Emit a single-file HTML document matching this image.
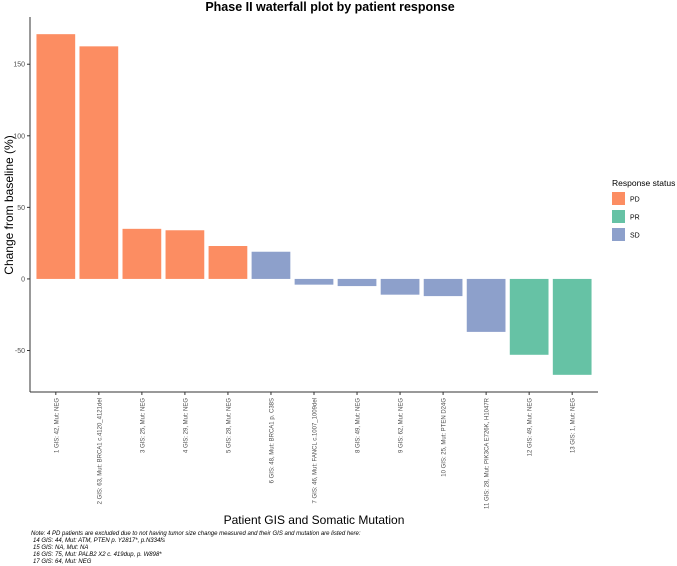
<!DOCTYPE html>
<html><head><meta charset="utf-8"><style>
html,body{margin:0;padding:0;background:#fff;}
svg{display:block;font-family:"Liberation Sans",sans-serif;}
</style></head><body>
<svg id="chart" width="677" height="566">
<text x="330" y="11" text-anchor="middle" font-size="12.5" font-weight="bold" fill="#000">Phase II waterfall plot by patient response</text>
<text transform="translate(13,205) rotate(-90)" text-anchor="middle" font-size="12" fill="#000">Change from baseline (%)</text>
<text x="314" y="524" text-anchor="middle" font-size="12" fill="#000">Patient GIS and Somatic Mutation</text>
<g font-size="6" font-style="italic" fill="#000">
<text x="31" y="535">Note: 4 PD patients are excluded due to not having tumor size change measured and their GIS and mutation are listed here:</text>
<text x="33" y="542">14 GIS: 44, Mut: ATM, PTEN p. Y2817*, p.N334fs</text>
<text x="33" y="549">15 GIS: NA, Mut: NA</text>
<text x="33" y="556">16 GIS: 75, Mut: PALB2 X2 c. 419dup, p. W898*</text>
<text x="33" y="563">17 GIS: 64, Mut: NEG</text>
</g>
<g id="plot"></g>
<g>
<text x="612" y="186" font-size="8.5" fill="#000">Response status</text>
<rect x="612" y="192" width="13" height="13" fill="#FC8D62"/>
<text x="630" y="201.5" font-size="7" fill="#000">PD</text>
<rect x="612" y="210" width="13" height="13" fill="#66C2A5"/>
<text x="630" y="219.5" font-size="7" fill="#000">PR</text>
<rect x="612" y="228" width="13" height="13" fill="#8DA0CB"/>
<text x="630" y="237.5" font-size="7" fill="#000">SD</text>
</g>
</svg>
<script>
const categories = ["1 GIS: 42, Mut: NEG","2 GIS: 63, Mut: BRCA1 c.4120_4121del","3 GIS: 25, Mut: NEG","4 GIS: 29, Mut: NEG","5 GIS: 28, Mut: NEG","6 GIS: 48, Mut: BRCA1 p. C38S","7 GIS: 46, Mut: FANCL c.1007_1009del","8 GIS: 49, Mut: NEG","9 GIS: 62, Mut: NEG","10 GIS: 25, Mut: PTEN D24G","11 GIS: 28, Mut: PIK3CA E726K, H1047R","12 GIS: 49, Mut: NEG","13 GIS: 1, Mut: NEG"];
const values = [171, 162.5, 35, 34, 23, 19, -4, -5, -11, -12, -37, -53, -67];
const responseStatus = ["PD","PD","PD","PD","PD","SD","SD","SD","SD","SD","SD","PR","PR"];
const yTicks = [-50, 0, 50, 100, 150];
const colors = {PD:"#FC8D62", PR:"#66C2A5", SD:"#8DA0CB"};

const plotLeft = 30, plotRight = 598, plotTop = 17, plotBottom = 392;
const yMin = -79, yMax = 183;
const nCat = categories.length;
const step = (plotRight - plotLeft) / (nCat + 0.2);
function xs(i){ return plotLeft + step * (i + 0.6); }
function ys(v){ return plotBottom - (v - yMin) / (yMax - yMin) * (plotBottom - plotTop); }
const NS = "http://www.w3.org/2000/svg";
const plotG = document.getElementById("plot");
function mk(tag, attrs){ const e = document.createElementNS(NS, tag); for (const k in attrs) e.setAttribute(k, attrs[k]); plotG.appendChild(e); return e; }

const bw = step * 0.9;
values.forEach((v, i) => {
  const y0 = ys(0), y1 = ys(v);
  const r = mk("rect", {x: xs(i) - bw/2, y: Math.min(y0, y1), width: bw, height: Math.abs(y1 - y0), fill: colors[responseStatus[i]]});
  
  
});
const ya = mk("line", {x1: plotLeft, x2: plotLeft, y1: plotTop, y2: plotBottom, stroke: "#333", "stroke-width": 1});


const xa = mk("line", {x1: plotLeft, x2: plotRight, y1: plotBottom, y2: plotBottom, stroke: "#333", "stroke-width": 1});


yTicks.forEach(t => {
  const y = ys(t);
  const tl = mk("line", {x1: plotLeft - 3, x2: plotLeft, y1: y, y2: y, stroke: "#333"});
  
  
  const tx = mk("text", {x: plotLeft - 5, y: y + 2.5, "text-anchor": "end", "font-size": 7, fill: "#4d4d4d"});
  tx.textContent = t;
  
  
});
categories.forEach((c, i) => {
  const x = xs(i);
  const tl = mk("line", {x1: x, x2: x, y1: plotBottom, y2: plotBottom + 3, stroke: "#333"});
  
  
  const tx = mk("text", {transform: "translate(" + (x + 2.5) + "," + (plotBottom + 6) + ") rotate(-90)", "text-anchor": "end", "font-size": 6, fill: "#4d4d4d"});
  tx.textContent = c;
  
  
});
</script>
</body></html>
